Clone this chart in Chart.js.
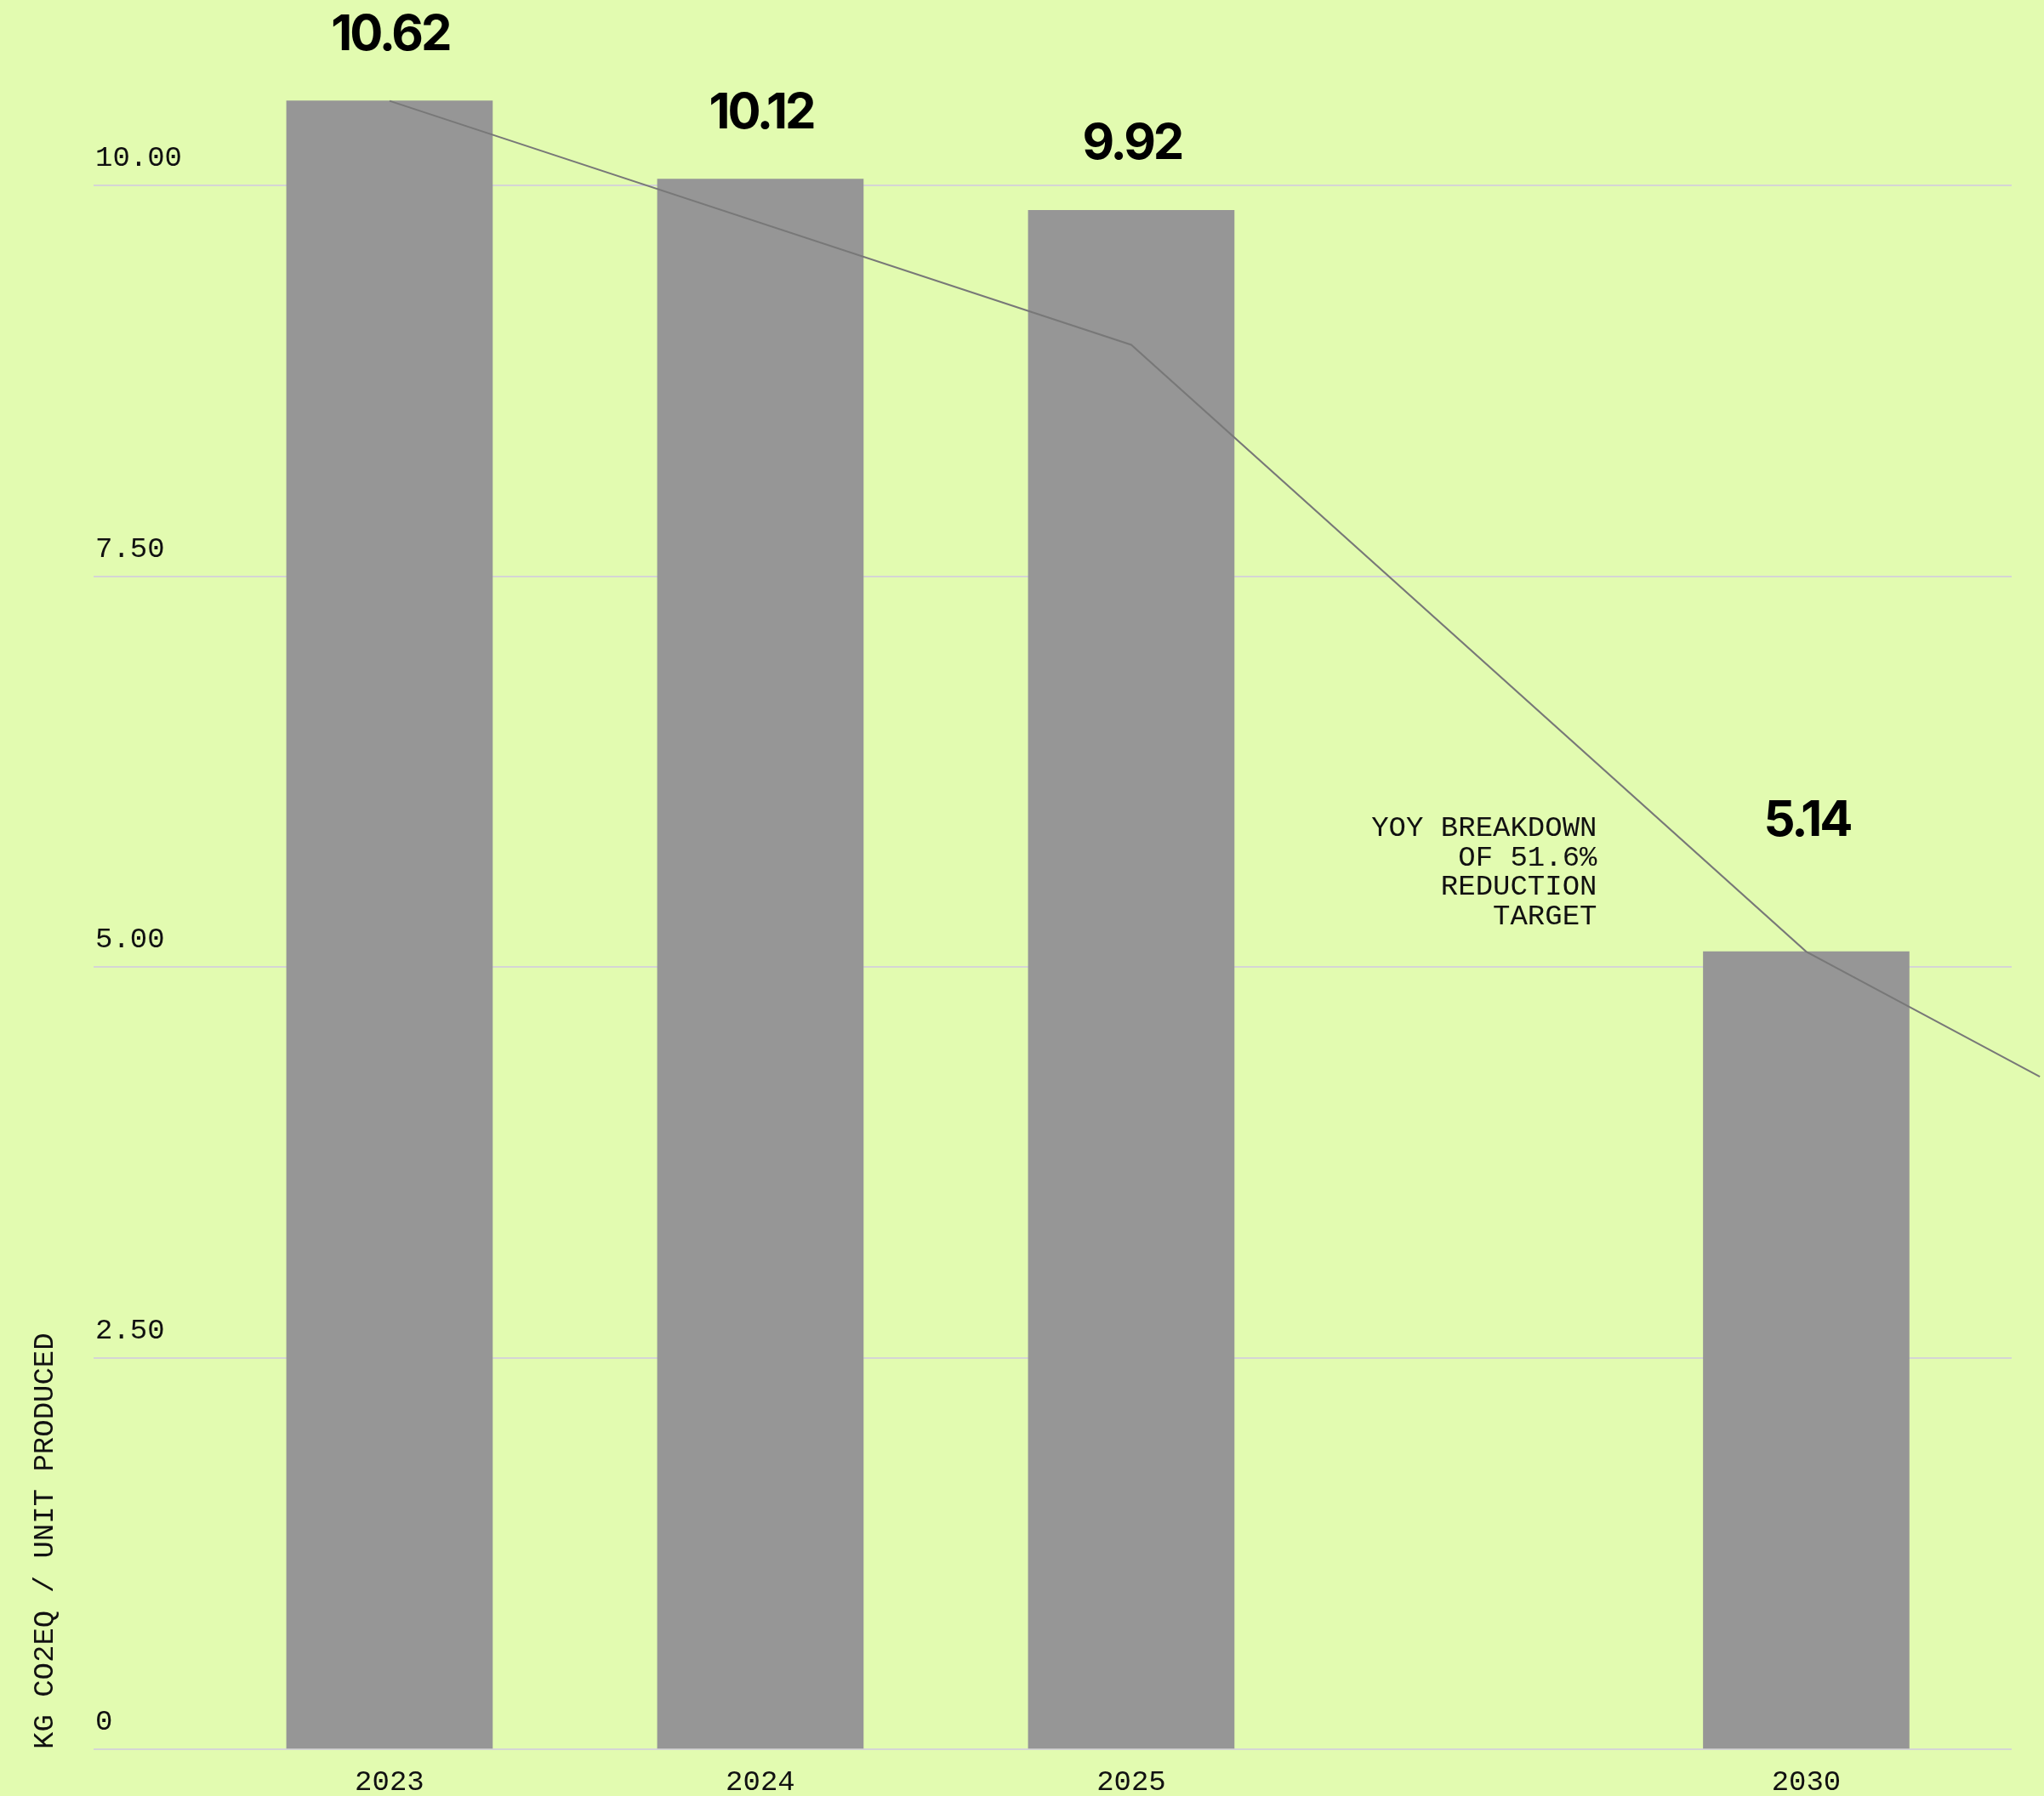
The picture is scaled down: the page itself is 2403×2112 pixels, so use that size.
<!DOCTYPE html>
<html><head><meta charset="utf-8">
<script src="https://cdn.jsdelivr.net/npm/chart.js@4.4.1/dist/chart.umd.min.js"></script>
<style>
html,body{margin:0;padding:0;background:#e2fbb0;}
#wrap{width:2403px;height:2112px;position:relative;}
</style>
</head><body><div id="wrap"><canvas id="c"></canvas></div>
<script>
// ---- data ----
const categories = ['2023', '2024', '2025', '2030'];
const categorySlots = [0, 1, 2, 3.82];            // position of each category along the x axis (slot units)
const actualValues = [10.54, 10.04, 9.84, null];   // bar heights as drawn
const targetValues = [null, null, null, 5.10];
const valueLabels = ['10.62', '10.12', '9.92', '5.14']; // printed value labels
const trendSlots = [0, 2, 3.82, 4.45];
const trendValues = [10.54, 8.98, 5.10, 4.30];
const yTicks = [0, 2.5, 5, 7.5, 10];
const axisTitle = 'KG CO2EQ / UNIT PRODUCED';
const noteLines = ['YOY BREAKDOWN', 'OF 51.6%', 'REDUCTION', 'TARGET'];

const BG = '#e2fbb0';
const BAR = '#969696';
const MONO = '"Liberation Mono", "DejaVu Sans Mono", monospace';

function barPoints(values) {
  const out = [];
  values.forEach((v, i) => { if (v !== null) out.push({ x: categorySlots[i], y: v, label: valueLabels[i] }); });
  return out;
}

const bgPlugin = {
  id: 'bg',
  beforeDraw(chart) {
    const c = chart.ctx;
    c.save(); c.fillStyle = BG; c.fillRect(0, 0, chart.width, chart.height); c.restore();
  }
};

const labelPlugin = {
  id: 'valueLabels',
  afterDatasetsDraw(chart) {
    const ctx = chart.ctx;
    ctx.save();
    ctx.fillStyle = '#000';
    ctx.textAlign = 'center';
    ctx.textBaseline = 'alphabetic';
    let noteAnchor = null;
    chart.data.datasets.forEach((ds, di) => {
      if (!ds.labelGap) return;
      const meta = chart.getDatasetMeta(di);
      meta.data.forEach((el, j) => {
        const p = ds.data[j];
        ctx.font = '700 58px Inter';
        ctx.letterSpacing = '-3px';
        ctx.fillText(p.label, el.x + 1, el.y - ds.labelGap);
        if (ds.isTarget) noteAnchor = { x: el.x - el.width / 2 - 125, y: el.y - ds.labelGap };
      });
    });
    if (noteAnchor) {
      ctx.font = '34px ' + MONO;
      ctx.letterSpacing = '0px';
      ctx.textAlign = 'right';
      ctx.fillStyle = '#111';
      noteLines.forEach((t, i) => ctx.fillText(t, noteAnchor.x, noteAnchor.y + i * 34.7));
    }
    ctx.restore();
  }
};

new Chart(document.getElementById('c'), {
  type: 'bar',
  data: {
    datasets: [
      {
        type: 'line',
        data: trendSlots.map((x, i) => ({ x, y: trendValues[i] })),
        borderColor: '#787878',
        borderWidth: 2,
        pointRadius: 0,
        fill: false,
        tension: 0,
        clip: false,
        order: 0
      },
      {
        data: barPoints(actualValues),
        backgroundColor: BAR,
        barThickness: 242,
        grouped: false,
        labelGap: 60,
        order: 1
      },
      {
        data: barPoints(targetValues),
        backgroundColor: BAR,
        barThickness: 242,
        grouped: false,
        labelGap: 136,
        isTarget: true,
        order: 1
      }
    ]
  },
  options: {
    responsive: true,
    maintainAspectRatio: false,
    animation: false,
    layout: { padding: { top: 34, right: 38, left: 0, bottom: 0 } },
    plugins: { legend: { display: false }, tooltip: { enabled: false } },
    scales: {
      x: {
        type: 'linear',
        offset: false,
        min: -0.798,
        max: 4.374,
        grid: { display: false, drawTicks: false, offset: false },
        border: { display: false },
        afterBuildTicks(scale) { scale.ticks = categorySlots.map(v => ({ value: v })); },
        afterFit(scale) { scale.height = 55; },
        ticks: {
          color: '#111',
          font: { family: MONO, size: 34 },
          padding: 19,
          maxRotation: 0,
          autoSkip: false,
          callback(value, index) { return categories[index]; }
        }
      },
      y: {
        min: 0,
        max: 11,
        grid: { color: '#d5d5d5', lineWidth: 2, drawTicks: false },
        border: { display: false },
        afterBuildTicks(scale) { scale.ticks = yTicks.map(v => ({ value: v })); },
        afterFit(scale) { scale.width = 110; },
        title: {
          display: true,
          text: axisTitle,
          align: 'start',
          color: '#111',
          font: { family: MONO, size: 34 },
          padding: { top: 33, bottom: 0 }
        },
        ticks: {
          mirror: true,
          padding: 2,
          labelOffset: -32,
          color: '#111',
          font: { family: MONO, size: 34 },
          callback(value) { return value === 0 ? '0' : value.toFixed(2); }
        }
      }
    }
  },
  plugins: [bgPlugin, labelPlugin]
});
</script>
</body></html>
